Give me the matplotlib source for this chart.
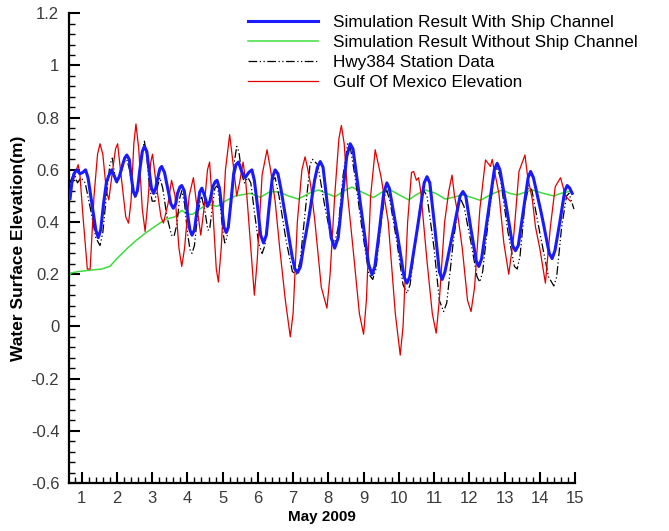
import matplotlib
matplotlib.use("Agg")
import matplotlib.pyplot as plt
from matplotlib.ticker import MultipleLocator, FuncFormatter

plt.rcParams['font.family'] = ['Liberation Sans', 'DejaVu Sans']

# ---- data (day of May 2009, elevation m) ----
blue_t = [0.67, 0.72, 0.78, 0.86, 0.95, 1.03, 1.11, 1.18, 1.29, 1.40, 1.47, 1.54, 1.62, 1.70, 1.76,
          1.85, 1.93, 1.99, 2.07, 2.14, 2.22, 2.28, 2.35, 2.40, 2.47, 2.52, 2.58, 2.65, 2.72, 2.78,
          2.85, 2.91, 2.98, 3.04, 3.10, 3.16, 3.22, 3.27, 3.35, 3.44, 3.53, 3.60, 3.67, 3.72, 3.79,
          3.84, 3.91, 3.99, 4.07, 4.13, 4.20, 4.27, 4.35, 4.41, 4.49, 4.57, 4.64, 4.72, 4.79, 4.84,
          4.91, 4.97, 5.04, 5.10, 5.16, 5.23, 5.31, 5.38, 5.45, 5.55, 5.64, 5.74, 5.83, 5.90, 5.99,
          6.08, 6.16, 6.24, 6.32, 6.41, 6.49, 6.57, 6.65, 6.81, 6.97, 7.05, 7.13, 7.21, 7.29, 7.45,
          7.61, 7.69, 7.77, 7.85, 7.97, 8.08, 8.18, 8.28, 8.40, 8.52, 8.62, 8.70, 8.93, 9.14, 9.24,
          9.32, 9.45, 9.57, 9.66, 9.73, 9.95, 10.15, 10.23, 10.31, 10.52, 10.72, 10.80, 10.88, 11.02,
          11.15, 11.23, 11.31, 11.52, 11.74, 11.82, 11.90, 12.05, 12.20, 12.27, 12.35, 12.53, 12.71,
          12.79, 12.87, 13.05, 13.23, 13.31, 13.39, 13.53, 13.67, 13.74, 13.82, 14.05, 14.27, 14.35,
          14.43, 14.57, 14.71, 14.78, 14.85, 14.92]
blue_v = [0.49, 0.55, 0.585, 0.60, 0.585, 0.59, 0.60, 0.57, 0.47, 0.37, 0.34, 0.37, 0.47, 0.55, 0.575,
          0.60, 0.575, 0.555, 0.575, 0.61, 0.645, 0.657, 0.64, 0.58, 0.515, 0.50, 0.52, 0.60, 0.67, 0.69,
          0.67, 0.60, 0.53, 0.51, 0.53, 0.57, 0.605, 0.613, 0.59, 0.53, 0.47, 0.453, 0.47, 0.51, 0.535,
          0.54, 0.52, 0.445, 0.37, 0.35, 0.37, 0.44, 0.515, 0.53, 0.50, 0.46, 0.48, 0.535, 0.555, 0.56,
          0.53, 0.46, 0.38, 0.36, 0.38, 0.47, 0.58, 0.62, 0.63, 0.59, 0.57, 0.59, 0.60, 0.56, 0.46,
          0.35, 0.32, 0.35, 0.46, 0.57, 0.60, 0.585, 0.53, 0.40, 0.27, 0.22, 0.207, 0.23, 0.30, 0.42,
          0.56, 0.61, 0.632, 0.61, 0.47, 0.34, 0.30, 0.34, 0.50, 0.65, 0.70, 0.68, 0.45, 0.24, 0.198,
          0.23, 0.37, 0.51, 0.55, 0.53, 0.36, 0.19, 0.166, 0.19, 0.37, 0.55, 0.574, 0.55, 0.38,
          0.21, 0.18, 0.21, 0.35, 0.50, 0.517, 0.50, 0.37, 0.25, 0.23, 0.26, 0.43, 0.60,
          0.625, 0.60, 0.46, 0.31, 0.29, 0.31, 0.44, 0.57, 0.594, 0.57, 0.43, 0.28, 0.26,
          0.29, 0.40, 0.52, 0.54, 0.53, 0.51]

green_t = [0.64, 0.70, 0.90, 1.20, 1.57, 1.80, 2.00, 2.30, 2.55, 2.80, 3.10, 3.37, 3.65, 3.84, 4.00,
           4.15, 4.46, 4.65, 4.85, 5.07, 5.36, 5.78, 6.07, 6.35, 6.60, 6.87, 7.15, 7.45, 7.72, 7.95,
           8.19, 8.45, 8.67, 8.95, 9.28, 9.62, 9.76, 10.00, 10.28, 10.50, 10.75, 11.05, 11.32, 11.55,
           11.80, 12.05, 12.32, 12.60, 12.93, 13.15, 13.36, 13.60, 13.79, 14.10, 14.40, 14.60, 14.83, 14.92]
green_v = [0.19, 0.205, 0.21, 0.215, 0.22, 0.23, 0.26, 0.30, 0.33, 0.357, 0.385, 0.41, 0.42, 0.445, 0.43,
           0.43, 0.46, 0.466, 0.46, 0.48, 0.50, 0.51, 0.495, 0.517, 0.515, 0.50, 0.488, 0.51, 0.523, 0.51,
           0.497, 0.52, 0.534, 0.515, 0.494, 0.523, 0.523, 0.505, 0.485, 0.505, 0.523, 0.51, 0.488, 0.495,
           0.504, 0.495, 0.483, 0.505, 0.523, 0.51, 0.504, 0.515, 0.523, 0.51, 0.50, 0.51, 0.517, 0.515]

black_t = [0.67, 0.78, 0.88, 0.98, 1.10, 1.25, 1.40, 1.52, 1.60, 1.70, 1.80, 1.87, 1.94, 2.00, 2.10,
           2.20, 2.28, 2.36, 2.45, 2.52, 2.60, 2.70, 2.78, 2.85, 2.92, 3.00, 3.08, 3.14, 3.22, 3.30,
           3.42, 3.55, 3.62, 3.70, 3.78, 3.84, 3.92, 4.00, 4.08, 4.13, 4.20, 4.30, 4.40, 4.50, 4.58,
           4.63, 4.70, 4.78, 4.85, 4.93, 5.00, 5.06, 5.12, 5.22, 5.32, 5.40, 5.46, 5.55, 5.62, 5.72,
           5.80, 5.90, 6.02, 6.12, 6.20, 6.30, 6.40, 6.49, 6.60, 6.80, 6.98, 7.10, 7.20, 7.35, 7.48,
           7.55, 7.70, 7.90, 8.08, 8.18, 8.28, 8.42, 8.55, 8.62, 8.75, 8.95, 9.15, 9.26, 9.35, 9.50,
           9.60, 9.66, 9.75, 9.95, 10.12, 10.23, 10.32, 10.50, 10.65, 10.71, 10.80, 11.00, 11.15, 11.27,
           11.36, 11.55, 11.70, 11.75, 11.85, 12.05, 12.22, 12.30, 12.38, 12.55, 12.72, 12.79, 12.88,
           13.10, 13.28, 13.36, 13.44, 13.58, 13.69, 13.78, 14.00, 14.25, 14.40, 14.48, 14.62, 14.76,
           14.83, 14.90, 14.97]
black_v = [0.55, 0.59, 0.55, 0.57, 0.55, 0.45, 0.34, 0.31, 0.36, 0.50, 0.62, 0.645, 0.58, 0.55, 0.58,
           0.63, 0.64, 0.60, 0.52, 0.49, 0.53, 0.66, 0.71, 0.65, 0.54, 0.48, 0.48, 0.53, 0.57, 0.53,
           0.42, 0.35, 0.345, 0.39, 0.49, 0.52, 0.47, 0.36, 0.29, 0.28, 0.31, 0.44, 0.50, 0.44, 0.37,
           0.37, 0.45, 0.53, 0.54, 0.47, 0.37, 0.32, 0.34, 0.46, 0.62, 0.69, 0.67, 0.58, 0.55, 0.57,
           0.55, 0.44, 0.32, 0.28, 0.31, 0.44, 0.56, 0.57, 0.50, 0.33, 0.21, 0.20, 0.25, 0.45, 0.62,
           0.64, 0.62, 0.46, 0.34, 0.32, 0.38, 0.58, 0.70, 0.69, 0.58, 0.38, 0.20, 0.18, 0.22, 0.40,
           0.50, 0.52, 0.48, 0.32, 0.16, 0.127, 0.16, 0.36, 0.50, 0.52, 0.50, 0.30, 0.10, 0.057,
           0.09, 0.33, 0.47, 0.49, 0.46, 0.32, 0.19, 0.17, 0.21, 0.42, 0.59, 0.61, 0.57,
           0.36, 0.23, 0.22, 0.27, 0.47, 0.54, 0.52, 0.36, 0.19, 0.155, 0.19, 0.38, 0.50,
           0.51, 0.48, 0.45]

red_t = [0.67, 0.80, 0.90, 0.95, 1.05, 1.16, 1.24, 1.35, 1.45, 1.52, 1.60, 1.70, 1.77, 1.85, 1.96,
         2.02, 2.10, 2.25, 2.33, 2.40, 2.48, 2.54, 2.62, 2.72, 2.80, 2.88, 2.96, 3.01, 3.10, 3.25,
         3.32, 3.45, 3.55, 3.65, 3.76, 3.84, 3.92, 4.05, 4.17, 4.26, 4.38, 4.47, 4.57, 4.63, 4.72,
         4.82, 4.88, 4.96, 5.08, 5.20, 5.30, 5.40, 5.48, 5.58, 5.66, 5.80, 5.90, 5.98, 6.12, 6.26,
         6.36, 6.49, 6.62, 6.78, 6.92, 7.00, 7.12, 7.25, 7.34, 7.42, 7.50, 7.62, 7.80, 7.96, 8.05,
         8.18, 8.30, 8.37, 8.45, 8.55, 8.70, 8.88, 9.00, 9.08, 9.20, 9.33, 9.42, 9.50, 9.70, 9.90,
         10.04, 10.12, 10.25, 10.36, 10.42, 10.50, 10.56, 10.62, 10.80, 10.95, 11.06, 11.15, 11.30,
         11.42, 11.51, 11.58, 11.65, 11.80, 11.95, 12.05, 12.15, 12.30, 12.46, 12.60, 12.65, 12.84,
         12.98, 13.12, 13.26, 13.41, 13.58, 13.65, 13.79, 13.88, 14.00, 14.16, 14.30, 14.44, 14.59,
         14.73, 14.83, 14.87]
red_v = [0.52, 0.58, 0.62, 0.58, 0.40, 0.22, 0.22, 0.50, 0.66, 0.70, 0.66, 0.52, 0.485, 0.57, 0.68,
         0.70, 0.60, 0.42, 0.396, 0.48, 0.70, 0.776, 0.68, 0.45, 0.364, 0.48, 0.63, 0.66, 0.56, 0.42,
         0.396, 0.47, 0.56, 0.50, 0.30, 0.23, 0.30, 0.50, 0.57, 0.47, 0.35, 0.45, 0.60, 0.63, 0.45,
         0.22, 0.17, 0.30, 0.60, 0.735, 0.62, 0.50, 0.55, 0.63, 0.55, 0.30, 0.12, 0.25, 0.58, 0.677,
         0.60, 0.48, 0.30, 0.10, -0.04, 0.05, 0.40, 0.60, 0.65, 0.60, 0.54, 0.40, 0.15, 0.07, 0.20,
         0.50, 0.72, 0.77, 0.70, 0.50, 0.30, 0.05, -0.03, 0.10, 0.50, 0.677, 0.62, 0.57, 0.40, 0.05,
         -0.11, 0.00, 0.40, 0.59, 0.594, 0.56, 0.57, 0.52, 0.25, 0.05, -0.026, 0.10, 0.40,
         0.52, 0.58, 0.50, 0.45, 0.30, 0.10, 0.057, 0.15, 0.45, 0.638, 0.613, 0.64, 0.51,
         0.32, 0.20, 0.345, 0.594, 0.657, 0.58, 0.485, 0.38, 0.30, 0.166, 0.38, 0.536, 0.57,
         0.50, 0.485, 0.48]

labels = ["Simulation Result With Ship Channel",
          "Simulation Result Without Ship Channel",
          "Hwy384 Station Data",
          "Gulf Of Mexico Elevation"]

fig = plt.figure(figsize=(6.69, 5.31), dpi=100)
ax = fig.add_axes([69/669, 48/531, (575-69)/669, (483-13.3)/531])

l1, = ax.plot(blue_t, blue_v, color='#1a1aff', lw=2.2, zorder=4)
l2, = ax.plot(green_t, green_v, color='#3ddc3d', lw=1.1, zorder=2)
l3, = ax.plot(black_t, black_v, color='black', lw=0.9, linestyle=(0, (7, 2, 1, 2, 1, 2)), zorder=3)
l4, = ax.plot(red_t, red_v, color='#e00000', lw=0.9, zorder=3)

ax.set_xlim(0.64, 15.0)
ax.set_ylim(-0.6, 1.2)
for s in ['top', 'right']:
    ax.spines[s].set_visible(False)
for s in ['left', 'bottom']:
    ax.spines[s].set_linewidth(1.6)

ax.xaxis.set_major_locator(MultipleLocator(1))
ax.xaxis.set_minor_locator(MultipleLocator(0.2))
ax.yaxis.set_major_locator(MultipleLocator(0.2))
ax.yaxis.set_minor_locator(MultipleLocator(0.04))
ax.yaxis.set_major_formatter(FuncFormatter(lambda v, p: f"{v:g}" if abs(v) > 1e-9 else "0"))
ax.tick_params(which='major', direction='in', length=8, width=1.5, labelsize=12, labelcolor='#3a3a3a')
ax.tick_params(which='minor', direction='in', length=4.5, width=1.0)
ax.tick_params(axis='y', which='major', pad=7)
ax.tick_params(axis='x', which='major', pad=6)

ax.set_xlabel("May 2009", fontsize=11, fontweight='bold', labelpad=3)
ax.set_ylabel("Water Surface Elevation(m)", fontsize=12.5, fontweight='bold', labelpad=3)

leg = fig.legend([l1, l2, l3, l4], labels, loc='upper left',
                 bbox_to_anchor=(248/669, 1 - 15/531), frameon=False,
                 fontsize=12.3, handlelength=4.1, handletextpad=0.85,
                 labelspacing=0.3, borderpad=0, borderaxespad=0)

fig.savefig("out.png", dpi=100)
